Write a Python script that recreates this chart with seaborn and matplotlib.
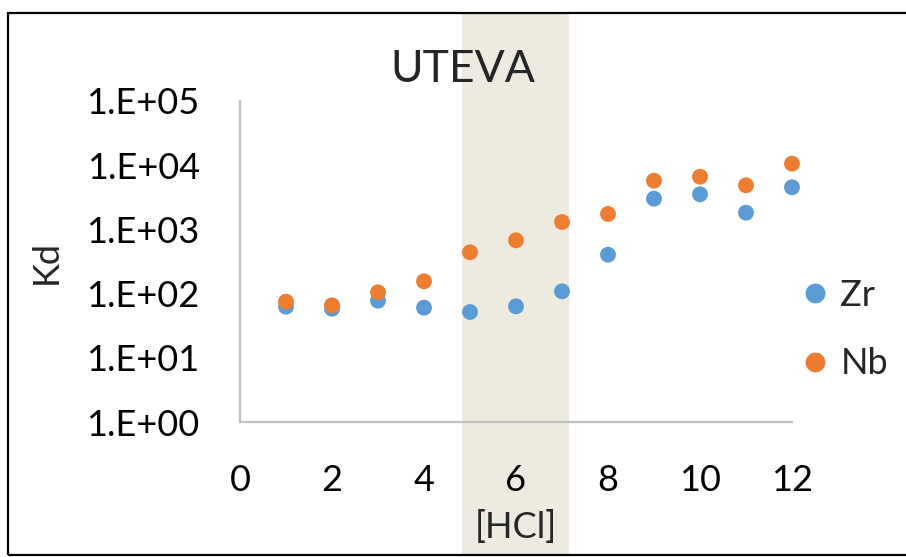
import matplotlib
matplotlib.use("Agg")
import matplotlib.pyplot as plt
import matplotlib.transforms as mtransforms
from matplotlib.patches import Rectangle
import numpy as np
import pandas as pd
import seaborn as sns

# ---- data ----
hcl = [1, 2, 3, 4, 5, 6, 7, 8, 9, 10, 11, 12]
zr_kd = [62.5, 58.2, 77.5, 60.3, 51.7, 63.4, 108.6, 404, 3010, 3520, 1820, 4530]
nb_kd = [74.8, 65.7, 104.8, 155.5, 440, 676, 1304, 1738, 5740, 6620, 4860, 10550]
series_names = ["Zr", "Nb"]
x_ticks = [0, 2, 4, 6, 8, 10, 12]
y_ticks = [1, 10, 100, 1000, 10000, 100000]
y_tick_labels = ["1.E+00", "1.E+01", "1.E+02", "1.E+03", "1.E+04", "1.E+05"]
hcl_band = (4.83, 7.15)
title = "UTEVA"
x_label = "[HCl]"
y_label = "Kd"

df = pd.DataFrame({
    "HCl": hcl + hcl,
    "Kd": zr_kd + nb_kd,
    "Element": ["Zr"] * len(hcl) + ["Nb"] * len(hcl),
})

sns.set_theme(style="white")
plt.rcParams["font.family"] = ["Lato", "DejaVu Sans"]

FS = 26
W, H = 906, 557
fig = plt.figure(figsize=(W / 100, H / 100), dpi=100)
ax = fig.add_axes([240 / W, 1 - 422 / H, 552 / W, 321 / H])
ax.set_facecolor("none")

sns.scatterplot(data=df, x="HCl", y="Kd", hue="Element", hue_order=series_names,
                palette=["#5B9BD5", "#ED7D31"], s=130, edgecolor="none",
                ax=ax, zorder=3, clip_on=False)

ax.set_yscale("log")
ax.set_ylim(1, 1e5)
ax.set_xlim(0, 12)
ax.set_xticks(x_ticks)
ax.set_xticklabels([str(t) for t in x_ticks])
ax.set_yticks(y_ticks)
ax.set_yticklabels(y_tick_labels)
ax.minorticks_off()
ax.tick_params(axis="both", length=0, labelsize=FS, colors="black")
ax.tick_params(axis="y", pad=29)
ax.tick_params(axis="x", pad=30)

for s in ["top", "right"]:
    ax.spines[s].set_visible(False)
for s in ["left", "bottom"]:
    ax.spines[s].set_color("#BFBFBF")
    ax.spines[s].set_linewidth(1.6)
    ax.spines[s].set_zorder(2.5)

ax.set_xlabel(x_label, fontsize=FS)
ax.xaxis.set_label_coords(0.5, -0.275)
ax.xaxis.label.set_va("top")
ax.set_ylabel(y_label, fontsize=FS)
ax.yaxis.set_label_coords(-0.322, 0.5)

# shaded HCl band spanning figure height
trans = mtransforms.blended_transform_factory(ax.transData, fig.transFigure)
band = Rectangle((hcl_band[0], 1 - 554 / H), hcl_band[1] - hcl_band[0], (554 - 14) / H,
                 transform=trans, facecolor="#EDEBE0", edgecolor="none",
                 clip_on=False, zorder=0)
ax.add_patch(band)

# legend
handles, labels = ax.get_legend_handles_labels()
ax.legend(handles, labels, loc="center left", bbox_to_anchor=(806 / W, 1 - 329.5 / H),
          bbox_transform=fig.transFigure, frameon=False, fontsize=FS,
          handlelength=0.5, handletextpad=0.45, labelspacing=0.98,
          borderpad=0, borderaxespad=0, markerscale=1.25)

# title
fig.text(463 / W, 1 - 82 / H, title, ha="center", va="baseline", fontsize=32)

# figure border
border = Rectangle((8 / W, 1 - 555 / H), 1.0, (555 - 13) / H, transform=fig.transFigure,
                   facecolor="none", edgecolor="black", linewidth=1.6, zorder=10)
fig.patches.append(border)

fig.savefig("out.png", dpi=100)
